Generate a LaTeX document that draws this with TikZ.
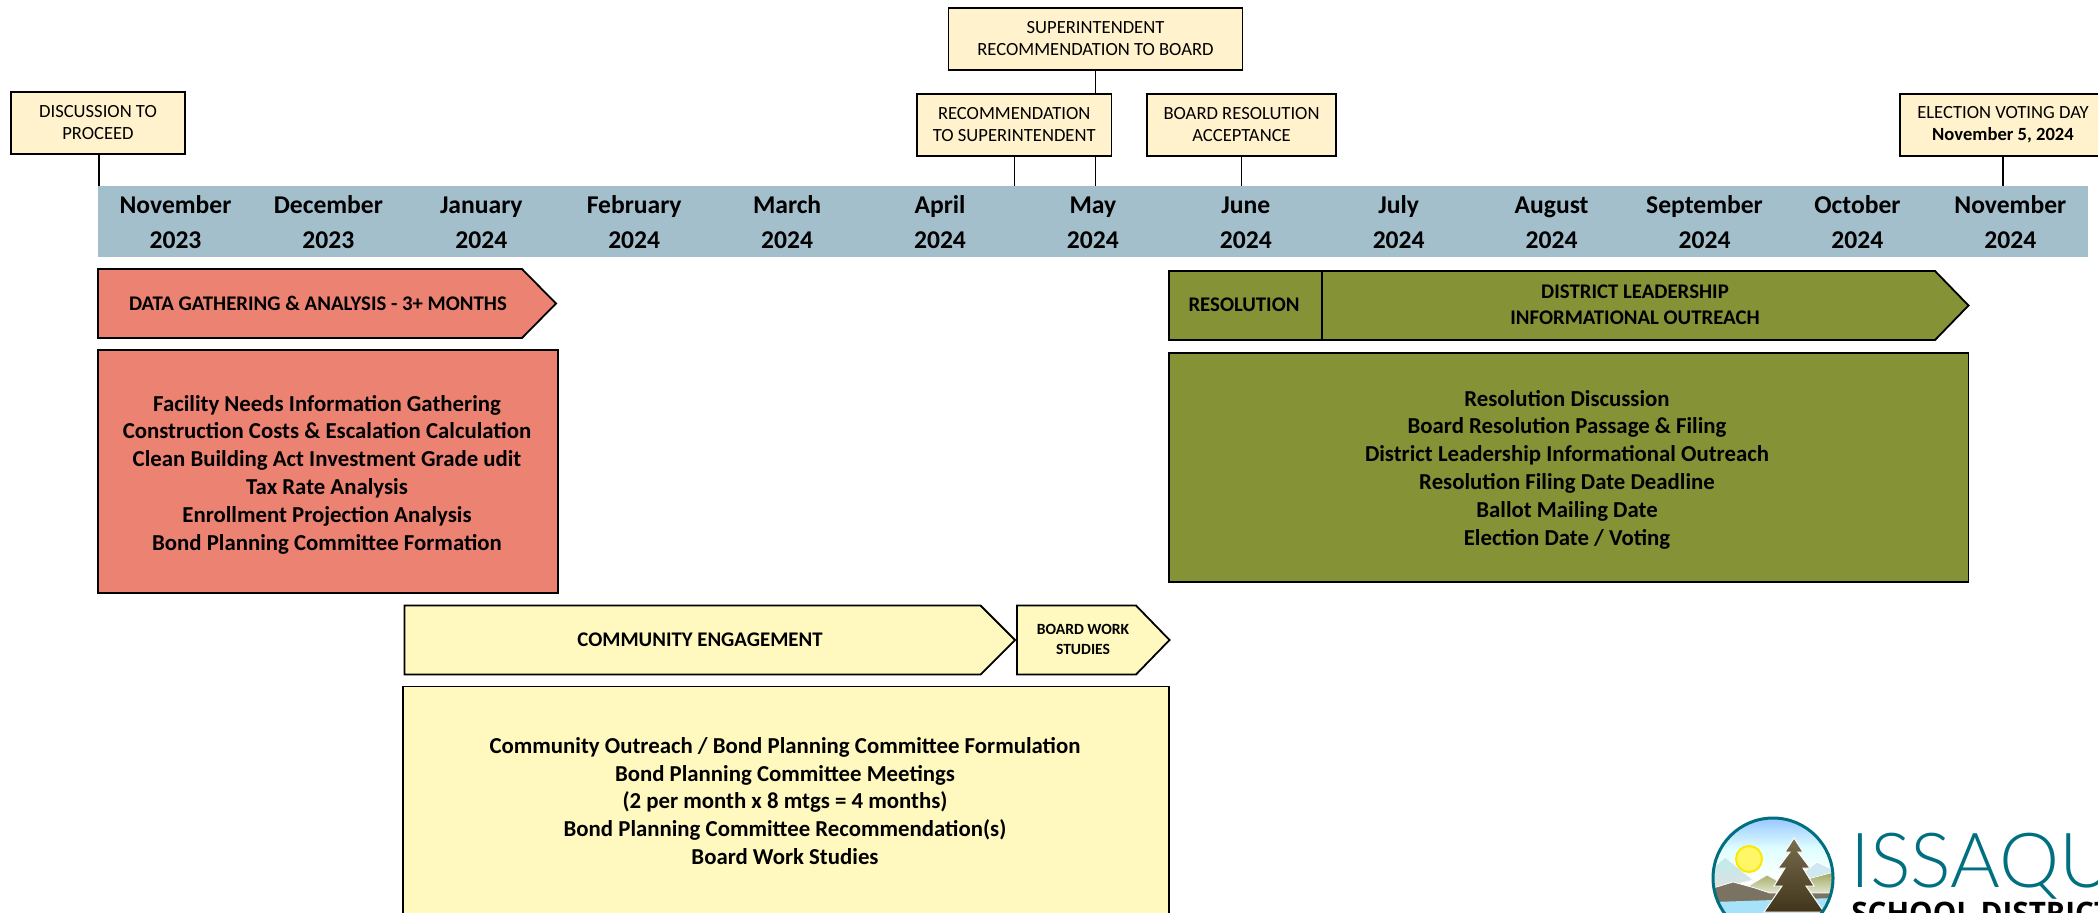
\documentclass[tikz,border=0pt]{standalone}
\usepackage{fontspec}
\setmainfont{Carlito}
\newfontfamily\logolight{Lato Light}
\newfontfamily\logobold{Open Sans}
\usetikzlibrary{backgrounds}
\definecolor{barblue}{HTML}{A3BFCC}
\definecolor{salmon}{HTML}{EC8272}
\definecolor{olive}{HTML}{859236}
\definecolor{paleyellow}{HTML}{FFF9BF}
\definecolor{callfill}{HTML}{FFF2CC}
\definecolor{logoteal}{HTML}{006F80}
\definecolor{treetop}{HTML}{7A6E50}
\definecolor{treebase}{HTML}{40341A}
\definecolor{hillbrown}{HTML}{7A7362}

\begin{document}
\begin{tikzpicture}[x=0.5pt,y=-0.5pt]%%timeline
                \tikzstyle{callout} = [rectangle, draw=black, line width=0.9pt, fill=callfill, inner sep=0pt, minimum height=31pt, align=center, font=\fontsize{9.3}{11}\selectfont]
                \tikzstyle{month}   = [inner sep=0pt, align=center, font=\fontsize{12.8}{17.5}\selectfont\bfseries]
                \tikzstyle{stage}   = [draw=black, line width=0.9pt]
                \tikzstyle{head}    = [inner sep=0pt, align=center, font=\fontsize{10.4}{13}\selectfont\bfseries]
                \tikzstyle{panel}   = [rectangle, draw=black, line width=0.9pt, inner sep=0pt]
                \tikzstyle{lines}   = [inner sep=0pt, align=center, font=\fontsize{11.4}{13.9}\selectfont\bfseries]
                \tikzstyle{tie}     = [draw=black, line width=0.6pt]

                \useasboundingbox (0,0) rectangle (2098,912);
                \clip (0,0) rectangle (2098,912);

                \node [rectangle, fill=barblue, inner sep=0pt, minimum width=995pt, minimum height=35.5pt](bar) at (1093,221.5) {};
                \foreach \m/\y [count=\i from 0] in {November/2023,December/2023,January/2024,February/2024,March/2024,April/2024,May/2024,June/2024,July/2024,August/2024,September/2024,October/2024,November/2024}{
                        \node [month](m\i) at (175.5+152.9*\i,222.5) {\m\\\y};
                }

                \node [callout, minimum width=87pt](discuss) at (98,123) {DISCUSSION TO\\PROCEED};
                \node [callout, minimum width=147pt](super) at (1095.5,39) {SUPERINTENDENT\\RECOMMENDATION TO BOARD};
                \node [callout, minimum width=97.25pt](recom) at (1014.25,125) {RECOMMENDATION\\TO SUPERINTENDENT};
                \node [callout, minimum width=94.5pt](accept) at (1241.5,125) {BOARD RESOLUTION\\ACCEPTANCE};
                \node [callout, minimum width=103pt](vote) at (2003,125) {ELECTION VOTING DAY\\\textbf{November 5, 2024}};

                \draw [tie] (discuss.south -| 99,0)--(bar.north -| 99,0);
                \draw [tie] (recom.south)--(bar.north -| recom.south);
                \draw [tie] (accept.south)--(bar.north -| accept.south);
                \draw [tie] (vote.south)--(bar.north -| vote.south);
                \begin{scope}[on background layer]
                        \draw [tie] (super.south)--(bar.north -| super.south);
                \end{scope}

                %stages
                \draw [stage, fill=salmon] (98,269)--(522,269)--(556,303.5)--(522,338)--(98,338)--cycle;
                \node [head](datahead) at (318,303) {DATA GATHERING \& ANALYSIS - 3+ MONTHS};
                \node [panel, fill=salmon, minimum width=230pt, minimum height=121.5pt](datapanel) at (328,471.5) {};
                \node [lines](datatext) at (327,474.5) {Facility Needs Information Gathering\\Construction Costs \& Escalation Calculation\\Clean Building Act Investment Grade udit\\Tax Rate Analysis\\Enrollment Projection Analysis\\Bond Planning Committee Formation};

                \draw [stage, fill=olive] (1169,271)--(1935,271)--(1968.5,305.5)--(1935,340)--(1169,340)--cycle;
                \draw [tie] (1322,271)--(1322,340);
                \node [head](reshead) at (1244,305) {RESOLUTION};
                \node [head](leadhead) at (1635,305) {DISTRICT LEADERSHIP\\INFORMATIONAL OUTREACH};
                \node [panel, fill=olive, minimum width=399.75pt, minimum height=114.5pt](respanel) at (1568.75,467.5) {};
                \node [lines](restext) at (1567,469.5) {Resolution Discussion\\Board Resolution Passage \& Filing\\District Leadership Informational Outreach\\Resolution Filing Date Deadline\\Ballot Mailing Date\\Election Date / Voting};

                \draw [stage, fill=paleyellow] (404.5,605.5)--(980.5,605.5)--(1015,640)--(980.5,674.5)--(404.5,674.5)--cycle;
                \node [head](commhead) at (700,639.5) {COMMUNITY ENGAGEMENT};
                \draw [stage, fill=paleyellow] (1017,605.5)--(1136,605.5)--(1169.5,640)--(1136,674.5)--(1017,674.5)--cycle;
                \node [head, font=\fontsize{7.8}{9.7}\selectfont\bfseries](workhead) at (1083,639.5) {BOARD WORK\\STUDIES};
                \node [panel, fill=paleyellow, minimum width=383.25pt, minimum height=115pt](commpanel) at (786,801.5) {};
                \node [lines](commtext) at (785,801) {Community Outreach / Bond Planning Committee Formulation\\Bond Planning Committee Meetings\\(2 per month x 8 mtgs = 4 months)\\Bond Planning Committee Recommendation(s)\\Board Work Studies};

                %logo
                \begin{scope}
                        \clip (1773,878) circle (60);
                        \shade [top color=cyan!45!blue!40!white, bottom color=white, middle color=cyan!12] (1713,818) rectangle (1834,880);
                        \fill [white] (1713,880) rectangle (1834,912);
                        \fill [top color=black!30!cyan!25, bottom color=black!12, draw=white] (1713,868)--(1725,857)--(1753,880)--(1713,890)--cycle;
                        \fill [black!25!cyan!20, draw=white] (1800,875)--(1817,862)--(1834,870)--(1834,885)--cycle;
                        \fill [top color=olive!80, bottom color=olive!20, draw=white] (1745,888)--(1767,875)--(1785,885)--(1834,872)--(1834,895)--(1745,895)--cycle;
                        \fill [hillbrown, draw=white] (1713,888)--(1733,882)--(1755,888)--(1770,893)--(1834,893)--(1834,900)--(1713,905)--cycle;
                        \fill [cyan!35!white] (1713,902)--(1834,898)--(1834,940)--(1713,940)--cycle;
                        \fill [yellow!60, draw=yellow!90!orange, line width=1pt] (1749,859) circle (13);
                        \fill [top color=treetop, bottom color=treebase, draw=white, line width=0.5pt] (1794,838)--(1803,852)--(1798,852)--(1810,868)--(1803,868)--(1814,886)--(1806,886)--(1824,912)--(1764,912)--(1782,886)--(1774,886)--(1785,868)--(1778,868)--(1790,852)--(1785,852)--cycle;
                \end{scope}
                \node [circle, draw=logoteal, line width=1.5pt, inner sep=0pt, minimum size=60pt](seal) at (1773,878) {};
                \node [anchor=base west, inner sep=0pt, text=logoteal, font=\fontsize{38}{38}\logolight](issaquah) at (1850,887) {ISSAQUAH};
                \node [anchor=base west, inner sep=0pt, font=\fontsize{14.8}{15}\logobold\bfseries](sdistrict) at (1851,923) {SCHOOL DISTRICT};
\end{tikzpicture}
\end{document}
